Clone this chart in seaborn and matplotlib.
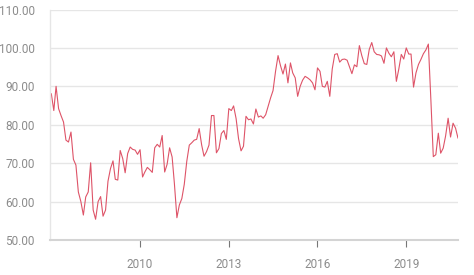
import matplotlib
matplotlib.use("Agg")
import matplotlib.pyplot as plt
import seaborn as sns
import pandas as pd

start_month = "2007-01-01"
values = [
    88.1, 83.7, 90.0, 84.2, 82.4, 80.7, 76.0, 75.5, 78.1, 71.0,
    69.5, 62.5, 60.0, 56.5, 61.2, 62.5, 70.1, 57.8, 55.4, 60.0,
    61.3, 56.2, 57.8, 65.3, 68.6, 70.6, 65.8, 65.6, 73.3, 71.2,
    67.5, 72.5, 74.2, 73.6, 73.4, 72.3, 73.5, 66.4, 67.7, 68.9,
    68.3, 67.6, 74.0, 74.9, 74.2, 77.2, 67.7, 69.7, 74.0, 71.6,
    64.7, 55.8, 59.1, 60.8, 64.5, 70.5, 74.7, 75.3, 76.0, 76.2,
    79.0, 74.7, 71.8, 73.0, 74.7, 82.4, 82.4, 72.7, 73.8, 77.7,
    78.5, 76.2, 84.2, 83.7, 84.9, 81.6, 76.4, 73.2, 74.4, 82.2,
    81.3, 81.5, 80.2, 84.1, 82.0, 82.3, 81.7, 82.6, 84.8, 87.0,
    88.9, 93.9, 98.0, 95.4, 93.2, 95.8, 90.9, 96.1, 93.5, 92.2,
    87.4, 90.0, 91.6, 92.6, 92.2, 91.7, 90.9, 89.1, 94.8, 93.9,
    90.0, 89.8, 91.3, 87.4, 94.5, 98.3, 98.5, 96.3, 97.0, 97.1,
    96.8, 95.0, 93.3, 95.6, 95.1, 100.6, 98.0, 95.9, 95.7, 99.6,
    101.4, 99.0, 98.3, 98.2, 97.9, 96.0, 100.0, 98.6, 97.7, 99.0,
    91.3, 94.5, 98.3, 97.1, 100.0, 98.4, 98.4, 89.8, 93.5, 95.7,
    97.0, 98.5, 99.5, 101.0, 86.5, 71.7, 72.2, 77.8, 72.6, 73.9,
    77.1, 81.7, 76.8, 80.4, 79.1, 76.5,
]
y_ticks = [50, 60, 70, 80, 90, 100, 110]
x_tick_years = [2010, 2013, 2016, 2019]

dates = pd.date_range(start_month, periods=len(values), freq="MS")
df = pd.DataFrame({"date": dates, "value": values})

sns.set_theme(style="white")
plt.rcParams["font.family"] = ["Roboto", "DejaVu Sans"]

fig = plt.figure(figsize=(4.74, 2.75), dpi=100)
ax = fig.add_axes([50 / 474, (275 - 240) / 275, 408 / 474, 230.5 / 275])

sns.lineplot(data=df, x="date", y="value", ax=ax, color="#de5468", linewidth=0.8)

ax.set_ylim(50, 110)
ax.set_yticks(y_ticks)
ax.set_yticklabels([f"{v:.2f}" for v in y_ticks])
ax.set_xlim(pd.Timestamp("2006-12-16"), pd.Timestamp("2020-10-01"))
ax.set_xticks([pd.Timestamp(f"{y}-01-01") for y in x_tick_years])
ax.set_xticklabels([str(y) for y in x_tick_years])

ax.set_xlabel("")
ax.set_ylabel("")
ax.grid(axis="y", color="#e6e6e6", linewidth=1.0)
ax.grid(axis="x", visible=False)
ax.set_axisbelow(True)

for s in ["top", "right"]:
    ax.spines[s].set_visible(False)
ax.spines["left"].set_color("#e6e6e6")
ax.spines["left"].set_linewidth(1.0)
ax.spines["bottom"].set_color("#d4d4d4")
ax.spines["bottom"].set_linewidth(1.5)

ax.tick_params(axis="y", length=0, pad=11, labelsize=8.5, labelcolor="#8c8c8c")
ax.tick_params(axis="x", length=5, width=0.8, color="#777777", pad=8,
               labelsize=8.5, labelcolor="#8c8c8c", bottom=True, direction="out")

fig.savefig("out.png", dpi=100, facecolor="white")
